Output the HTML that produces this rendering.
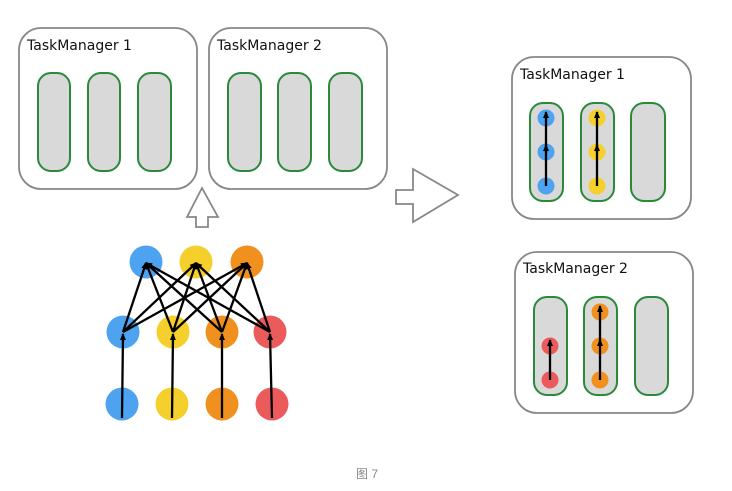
<!DOCTYPE html>
<html><head><meta charset="utf-8"><style>
html,body{margin:0;padding:0;background:#fff;width:732px;height:491px;overflow:hidden}
text{font-family:"DejaVu Sans","Liberation Sans",sans-serif}
</style></head><body>
<svg width="732" height="491" viewBox="0 0 732 491" xmlns="http://www.w3.org/2000/svg">
<defs>
<marker id="a" markerWidth="7" markerHeight="6" refX="6" refY="3" orient="auto" markerUnits="userSpaceOnUse"><path d="M0,0 L7,3 L0,6 z" fill="#000"/></marker>
</defs>
<g fill="#fff" stroke="#888" stroke-width="1.8">
<rect x="19" y="28" width="178" height="161" rx="22"/>
<rect x="209" y="28" width="178" height="161" rx="22"/>
<rect x="512" y="57" width="179" height="162" rx="22"/>
<rect x="515" y="252" width="178" height="161" rx="22"/>
<path d="M202,188 L218,217 L208,217 L208,227 L196,227 L196,217 L187,217 Z"/>
<path d="M396,190 L413,190 L413,169 L458,195 L413,222 L413,204 L396,204 Z"/>
</g>
<g fill="#d9d9d9" stroke="#2a8a3a" stroke-width="2">
<rect x="38" y="73" width="32" height="98" rx="13"/>
<rect x="88" y="73" width="32" height="98" rx="13"/>
<rect x="138" y="73" width="33" height="98" rx="13"/>
<rect x="228" y="73" width="33" height="98" rx="13"/>
<rect x="278" y="73" width="33" height="98" rx="13"/>
<rect x="329" y="73" width="33" height="98" rx="13"/>
<rect x="530" y="103" width="33" height="98" rx="13"/>
<rect x="581" y="103" width="33" height="98" rx="13"/>
<rect x="631" y="103" width="34" height="98" rx="13"/>
<rect x="534" y="297" width="33" height="98" rx="13"/>
<rect x="584" y="297" width="33" height="98" rx="13"/>
<rect x="635" y="297" width="33" height="98" rx="13"/>
</g>
<g font-size="14" fill="#111">
<text x="27" y="50">TaskManager 1</text>
<text x="217" y="50">TaskManager 2</text>
<text x="520" y="79">TaskManager 1</text>
<text x="523" y="273">TaskManager 2</text>
</g>
<g>
<circle cx="146" cy="262" r="16.5" fill="#4da3f0"/>
<circle cx="196" cy="262" r="16.5" fill="#f5d02c"/>
<circle cx="247" cy="262" r="16.5" fill="#f0901e"/>
<circle cx="123" cy="332" r="16.5" fill="#4da3f0"/>
<circle cx="173" cy="332" r="16.5" fill="#f5d02c"/>
<circle cx="222" cy="332" r="16.5" fill="#f0901e"/>
<circle cx="270" cy="332" r="16.5" fill="#ec5b5b"/>
<circle cx="122" cy="404" r="16.5" fill="#4da3f0"/>
<circle cx="172" cy="404" r="16.5" fill="#f5d02c"/>
<circle cx="222" cy="404" r="16.5" fill="#f0901e"/>
<circle cx="272" cy="404" r="16.5" fill="#ec5b5b"/>
</g>
<g stroke="#000" stroke-width="2.3" marker-end="url(#a)">
<line x1="122" y1="418" x2="123" y2="334"/>
<line x1="172" y1="418" x2="173" y2="334"/>
<line x1="222" y1="418" x2="222" y2="334"/>
<line x1="272" y1="418" x2="270" y2="334"/>
<line x1="123" y1="332" x2="146" y2="263"/>
<line x1="123" y1="332" x2="196" y2="263"/>
<line x1="123" y1="332" x2="247" y2="263"/>
<line x1="173" y1="332" x2="146" y2="263"/>
<line x1="173" y1="332" x2="196" y2="263"/>
<line x1="173" y1="332" x2="247" y2="263"/>
<line x1="222" y1="332" x2="146" y2="263"/>
<line x1="222" y1="332" x2="196" y2="263"/>
<line x1="222" y1="332" x2="247" y2="263"/>
<line x1="270" y1="332" x2="146" y2="263"/>
<line x1="270" y1="332" x2="196" y2="263"/>
<line x1="270" y1="332" x2="247" y2="263"/>
</g>
<g>
<circle cx="546" cy="118" r="8.5" fill="#4da3f0"/>
<circle cx="546" cy="152" r="8.5" fill="#4da3f0"/>
<circle cx="546" cy="186" r="8.5" fill="#4da3f0"/>
<circle cx="597" cy="118" r="8.5" fill="#f5d02c"/>
<circle cx="597" cy="152" r="8.5" fill="#f5d02c"/>
<circle cx="597" cy="186" r="8.5" fill="#f5d02c"/>
<circle cx="550" cy="346" r="8.5" fill="#ec5b5b"/>
<circle cx="550" cy="380" r="8.5" fill="#ec5b5b"/>
<circle cx="600" cy="312" r="8.5" fill="#f0901e"/>
<circle cx="600" cy="346" r="8.5" fill="#f0901e"/>
<circle cx="600" cy="380" r="8.5" fill="#f0901e"/>
</g>
<g stroke="#000" stroke-width="2.3" marker-end="url(#a)">
<line x1="546" y1="186" x2="546" y2="145"/>
<line x1="546" y1="152" x2="546" y2="112"/>
<line x1="597" y1="186" x2="597" y2="145"/>
<line x1="597" y1="152" x2="597" y2="112"/>
<line x1="550" y1="380" x2="550" y2="340"/>
<line x1="600" y1="380" x2="600" y2="340"/>
<line x1="600" y1="346" x2="600" y2="306"/>
</g>
<text x="356" y="478" font-size="12" fill="#888" style="font-family:'Liberation Sans','Noto Sans CJK SC',sans-serif">图 7</text>
</svg>
</body></html>
